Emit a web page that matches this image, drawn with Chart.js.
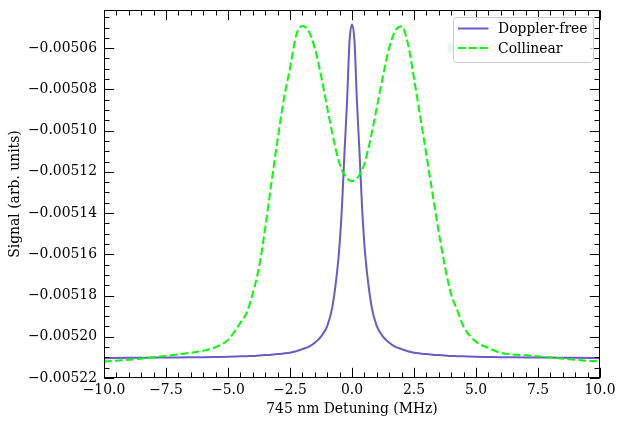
<!DOCTYPE html>
<html lang="en">
<head>
<meta charset="UTF-8">
<title>Doppler-free vs Collinear</title>
<script src="https://cdn.jsdelivr.net/npm/chart.js"></script>
<style>
  html, body { margin: 0; padding: 0; background: #fff; }
</style>
</head>
<body>
<canvas id="myChart" width="625" height="428"></canvas>
<script>
// detuning in MHz
const detuning = [-10, -9, -8, -7, -6, -5.5, -5, -4.5, -4.25, -4, -3.75, -3.5, -3.25, -3, -2.75, -2.5, -2.25, -2,
  -1.75, -1.5, -1.25, -1, -0.8, -0.6, -0.5, -0.4, -0.3, -0.2, -0.1, 0,
  0.1, 0.2, 0.3, 0.4, 0.5, 0.6, 0.8, 1, 1.25, 1.5, 1.75,
  2, 2.25, 2.5, 2.75, 3, 3.25, 3.5, 3.75, 4, 4.25, 4.5, 5, 5.5, 6, 7, 8, 9, 10];

// signal, arb. units
const dopplerFree = [-0.0052104, -0.0052102, -0.0052101, -0.0052100, -0.0052099, -0.0052098, -0.0052097, -0.0052095,
  -0.0052094, -0.0052093, -0.0052091, -0.0052089, -0.0052087, -0.0052084, -0.0052081, -0.0052077, -0.0052070, -0.0052060,
  -0.0052049, -0.0052029, -0.0051999, -0.0051948, -0.0051860, -0.0051684, -0.0051553, -0.0051358, -0.0051099, -0.0050860,
  -0.0050567, -0.0050485,
  -0.0050567, -0.0050860, -0.0051099, -0.0051358, -0.0051553, -0.0051684, -0.0051860, -0.0051948, -0.0051999, -0.0052029,
  -0.0052049, -0.0052060, -0.0052070, -0.0052077, -0.0052081, -0.0052084, -0.0052087, -0.0052089, -0.0052091, -0.0052093,
  -0.0052094, -0.0052095, -0.0052097, -0.0052098, -0.0052099, -0.0052100, -0.0052101, -0.0052102, -0.0052104];

const collinear = [-0.0052120, -0.0052112, -0.0052100, -0.0052085, -0.0052068, -0.0052051, -0.0052015, -0.0051932,
  -0.0051884, -0.0051790, -0.0051663, -0.0051473, -0.0051254, -0.0051044, -0.0050849, -0.0050698, -0.0050537, -0.0050493,
  -0.0050517, -0.0050600, -0.0050732, -0.0050888, -0.0051010, -0.0051117, -0.0051161, -0.0051193, -0.0051215, -0.0051232,
  -0.0051241, -0.0051245,
  -0.0051241, -0.0051232, -0.0051215, -0.0051193, -0.0051161, -0.0051117, -0.0051010, -0.0050888, -0.0050735, -0.0050598,
  -0.0050515, -0.0050494, -0.0050576, -0.0050746, -0.0050932, -0.0051117, -0.0051307, -0.0051493, -0.0051661, -0.0051795,
  -0.0051873, -0.0051951, -0.0052024, -0.0052054, -0.0052078, -0.0052090, -0.0052100, -0.0052112, -0.0052120];

const xTicks = [-10, -7.5, -5, -2.5, 0, 2.5, 5, 7.5, 10];
const yTicks = [-0.00522, -0.00520, -0.00518, -0.00516, -0.00514, -0.00512, -0.00510, -0.00508, -0.00506];

const X_MIN = -10, X_MAX = 10;
const Y_MIN = -0.00522, Y_MAX = -0.0050415;

// minor ticks (axis decoration)
const xMinor = [];
for (let i = 0; i <= 40; i++) xMinor.push(-10 + i * 0.5);
const yMinor = [];
for (let i = 0; i <= 35; i++) yMinor.push(Y_MIN + i * 0.000005);

const toPoints = ys => ys.map((v, i) => ({ x: detuning[i], y: v }));
const fmt = s => s.replace('-', '\u2212');

Chart.defaults.font.family = 'DejaVu Serif';
Chart.defaults.font.size = 13.9;
Chart.defaults.color = '#000';

// frame + inward ticks on all four sides, then the legend
const frameAndLegend = {
  id: 'frameAndLegend',
  afterDraw(chart) {
    const { ctx, chartArea: a, scales: { x, y } } = chart;
    const L = Math.round(a.left) + 0.5, R = Math.round(a.right) - 0.5;
    const T = Math.round(a.top) + 0.5, B = Math.round(a.bottom) - 0.5;
    ctx.save();
    ctx.strokeStyle = '#000';
    ctx.lineWidth = 1;
    ctx.beginPath();
    const xt = (v, len) => {
      const p = Math.round(x.getPixelForValue(v)) + 0.5;
      ctx.moveTo(p, B); ctx.lineTo(p, B - len);
      ctx.moveTo(p, T); ctx.lineTo(p, T + len);
    };
    const yt = (v, len) => {
      const p = Math.round(y.getPixelForValue(v)) + 0.5;
      if (p < T - 1 || p > B + 1) return;
      ctx.moveTo(L, p); ctx.lineTo(L + len, p);
      ctx.moveTo(R, p); ctx.lineTo(R - len, p);
    };
    xMinor.forEach(v => xt(v, 5));
    xTicks.forEach(v => xt(v, 9.7));
    yMinor.forEach(v => yt(v, 5));
    yTicks.forEach(v => yt(v, 9.7));
    ctx.stroke();
    ctx.strokeRect(L, T, R - L, B - T);

    // legend box
    const bx = 453.5, by = 17.5, bw = 140, bh = 45, r = 3;
    ctx.beginPath();
    ctx.moveTo(bx + r, by);
    ctx.lineTo(bx + bw - r, by);
    ctx.arcTo(bx + bw, by, bx + bw, by + r, r);
    ctx.lineTo(bx + bw, by + bh - r);
    ctx.arcTo(bx + bw, by + bh, bx + bw - r, by + bh, r);
    ctx.lineTo(bx + r, by + bh);
    ctx.arcTo(bx, by + bh, bx, by + bh - r, r);
    ctx.lineTo(bx, by + r);
    ctx.arcTo(bx, by, bx + r, by, r);
    ctx.closePath();
    ctx.fillStyle = 'rgba(255,255,255,0.8)';
    ctx.fill();
    ctx.strokeStyle = '#cccccc';
    ctx.stroke();

    ctx.font = '13.9px "DejaVu Serif"';
    ctx.textBaseline = 'middle';
    ctx.fillStyle = '#000';
    chart.data.datasets.forEach((ds, i) => {
      const ry = 28.5 + i * 19.5;
      ctx.beginPath();
      ctx.strokeStyle = ds.borderColor;
      ctx.lineWidth = ds.borderWidth;
      ctx.setLineDash(ds.borderDash || []);
      ctx.moveTo(458, ry); ctx.lineTo(488.5, ry);
      ctx.stroke();
      ctx.setLineDash([]);
      ctx.fillText(ds.label, 498, ry + 1);
    });
    ctx.restore();
  }
};

const config = {
  type: 'line',
  data: {
    datasets: [
      {
        label: 'Doppler-free',
        data: toPoints(dopplerFree),
        borderColor: '#6a5acd',
        borderWidth: 2,
        pointRadius: 0,
        cubicInterpolationMode: 'monotone',
        order: 1
      },
      {
        label: 'Collinear',
        data: toPoints(collinear),
        borderColor: '#00ff00',
        borderWidth: 2,
        borderDash: [7.7, 3.3],
        pointRadius: 0,
        cubicInterpolationMode: 'monotone',
        order: 0
      }
    ]
  },
  options: {
    responsive: false,
    animation: false,
    layout: { padding: { top: 10, right: 25, left: 0, bottom: 0 } },
    plugins: {
      legend: { display: false },
      tooltip: { enabled: false }
    },
    scales: {
      x: {
        type: 'linear',
        min: X_MIN,
        max: X_MAX,
        grid: { display: false, drawTicks: false },
        border: { display: false },
        afterBuildTicks: s => { s.ticks = xTicks.map(v => ({ value: v })); },
        afterFit: s => { s.height = 50; s.paddingLeft = 0; s.paddingRight = 0; },
        ticks: {
          autoSkip: false,
          maxRotation: 0,
          padding: 4,
          callback: v => fmt(Number(v).toFixed(1))
        },
        title: {
          display: true,
          text: '745 nm Detuning (MHz)',
          padding: { top: 0, bottom: 10 }
        }
      },
      y: {
        type: 'linear',
        min: Y_MIN,
        max: Y_MAX,
        grid: { display: false, drawTicks: false },
        border: { display: false },
        afterBuildTicks: s => { s.ticks = yTicks.map(v => ({ value: v })); },
        afterFit: s => { s.width = 104; s.paddingTop = 0; s.paddingBottom = 0; },
        ticks: {
          autoSkip: false,
          padding: 7,
          callback: v => fmt(Number(v).toFixed(5))
        },
        title: {
          display: true,
          text: 'Signal (arb. units)',
          padding: { top: 7, bottom: 0 }
        }
      }
    }
  },
  plugins: [frameAndLegend]
};

const myChart = new Chart(document.getElementById('myChart'), config);
</script>
</body>
</html>
